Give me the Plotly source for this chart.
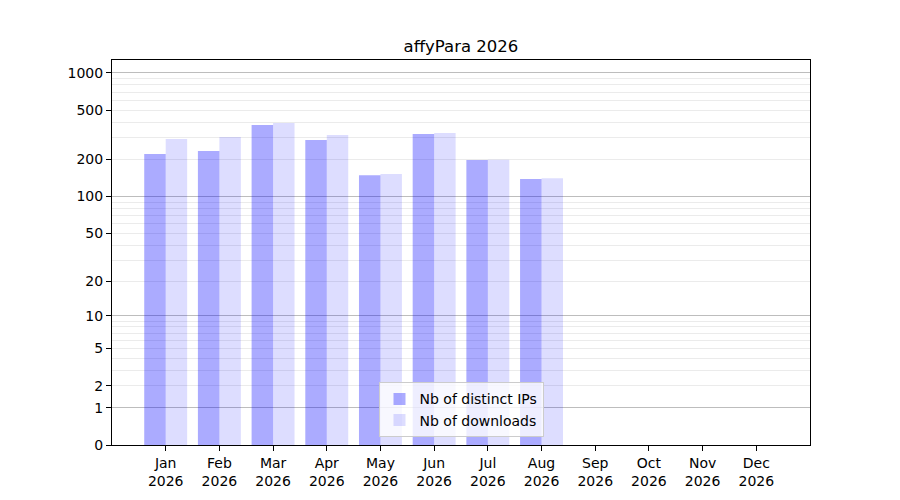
import numpy as np
import plotly.graph_objects as go

# monthly stats for the package
months = ["Jan", "Feb", "Mar", "Apr", "May", "Jun", "Jul", "Aug", "Sep", "Oct", "Nov", "Dec"]
year = "2026"
distinct_ips = [221, 234, 380, 287, 149, 321, 198, 139]
downloads = [293, 304, 394, 315, 152, 327, 199, 141]

tick_values = [0, 1, 2, 5, 10, 20, 50, 100, 200, 500, 1000]
major_grid = [1, 10, 100, 1000]
minor_grid = [2, 3, 4, 5, 6, 7, 8, 9, 20, 30, 40, 50, 60, 70, 80, 90,
              200, 300, 400, 500, 600, 700, 800, 900]


def tr(v):
    # log(1+x) scale, so zero can sit on the axis
    return np.log10(1 + np.asarray(v, dtype=float))


font = "DejaVu Sans"
x = list(range(len(months)))

fig = go.Figure()
fig.add_trace(go.Bar(
    name="Nb of distinct IPs",
    x=x[:len(distinct_ips)],
    y=tr(distinct_ips),
    marker=dict(color="rgba(0,0,255,0.33)", line=dict(width=0)),
    customdata=distinct_ips,
    hovertemplate="%{customdata}<extra></extra>",
))
fig.add_trace(go.Bar(
    name="Nb of downloads",
    x=x[:len(downloads)],
    y=tr(downloads),
    marker=dict(color="rgba(0,0,255,0.135)", line=dict(width=0)),
    customdata=downloads,
    hovertemplate="%{customdata}<extra></extra>",
))
# empty trace so the overlaying axis (darker decade grid) gets drawn
fig.add_trace(go.Scatter(x=[None], y=[None], yaxis="y2", mode="markers",
                         showlegend=False, hoverinfo="skip"))

yrange = [0, 3.105]
# the page body adds an 8px offset, margins compensate for it
fig.update_layout(
    width=900,
    height=500,
    paper_bgcolor="white",
    plot_bgcolor="white",
    margin=dict(l=104, r=98, t=52, b=63, autoexpand=False),
    barmode="group",
    bargap=0.2,
    bargroupgap=0,
    font=dict(family=font, size=14, color="black"),
    title=dict(text="affyPara " + year, x=0.5033, xanchor="center",
               y=0.924, yanchor="middle", font=dict(size=16.5)),
    xaxis=dict(
        range=[-1, 12],
        tickmode="array",
        tickvals=x,
        ticktext=[m + "<br>" + year for m in months],
        ticks="outside",
        ticklen=5,
        tickcolor="black",
        showgrid=False,
        showline=True,
        linecolor="black",
        linewidth=1,
        mirror=True,
        zeroline=False,
        automargin=False,
    ),
    yaxis=dict(
        range=yrange,
        tickmode="array",
        tickvals=tr(tick_values),
        ticktext=[str(t) for t in tick_values],
        ticks="outside",
        ticklen=5,
        tickcolor="black",
        showgrid=False,
        showline=True,
        linecolor="black",
        linewidth=1,
        mirror=True,
        zeroline=False,
        automargin=False,
        minor=dict(tickmode="array", tickvals=tr(minor_grid), ticks="",
                   showgrid=True, gridcolor="#ebebeb", gridwidth=1),
    ),
    yaxis2=dict(
        range=yrange,
        overlaying="y",
        tickmode="array",
        tickvals=tr(major_grid),
        showticklabels=False,
        ticks="",
        showgrid=True,
        gridcolor="#bdbdbd",
        gridwidth=1,
        showline=False,
        zeroline=False,
        automargin=False,
    ),
    legend=dict(
        x=0.5,
        xanchor="center",
        y=0.02,
        yanchor="bottom",
        bgcolor="rgba(255,255,255,0.8)",
        bordercolor="#cccccc",
        borderwidth=1,
        font=dict(size=14),
        tracegroupgap=0,
    ),
    showlegend=True,
)

fig.write_html("out.html")
